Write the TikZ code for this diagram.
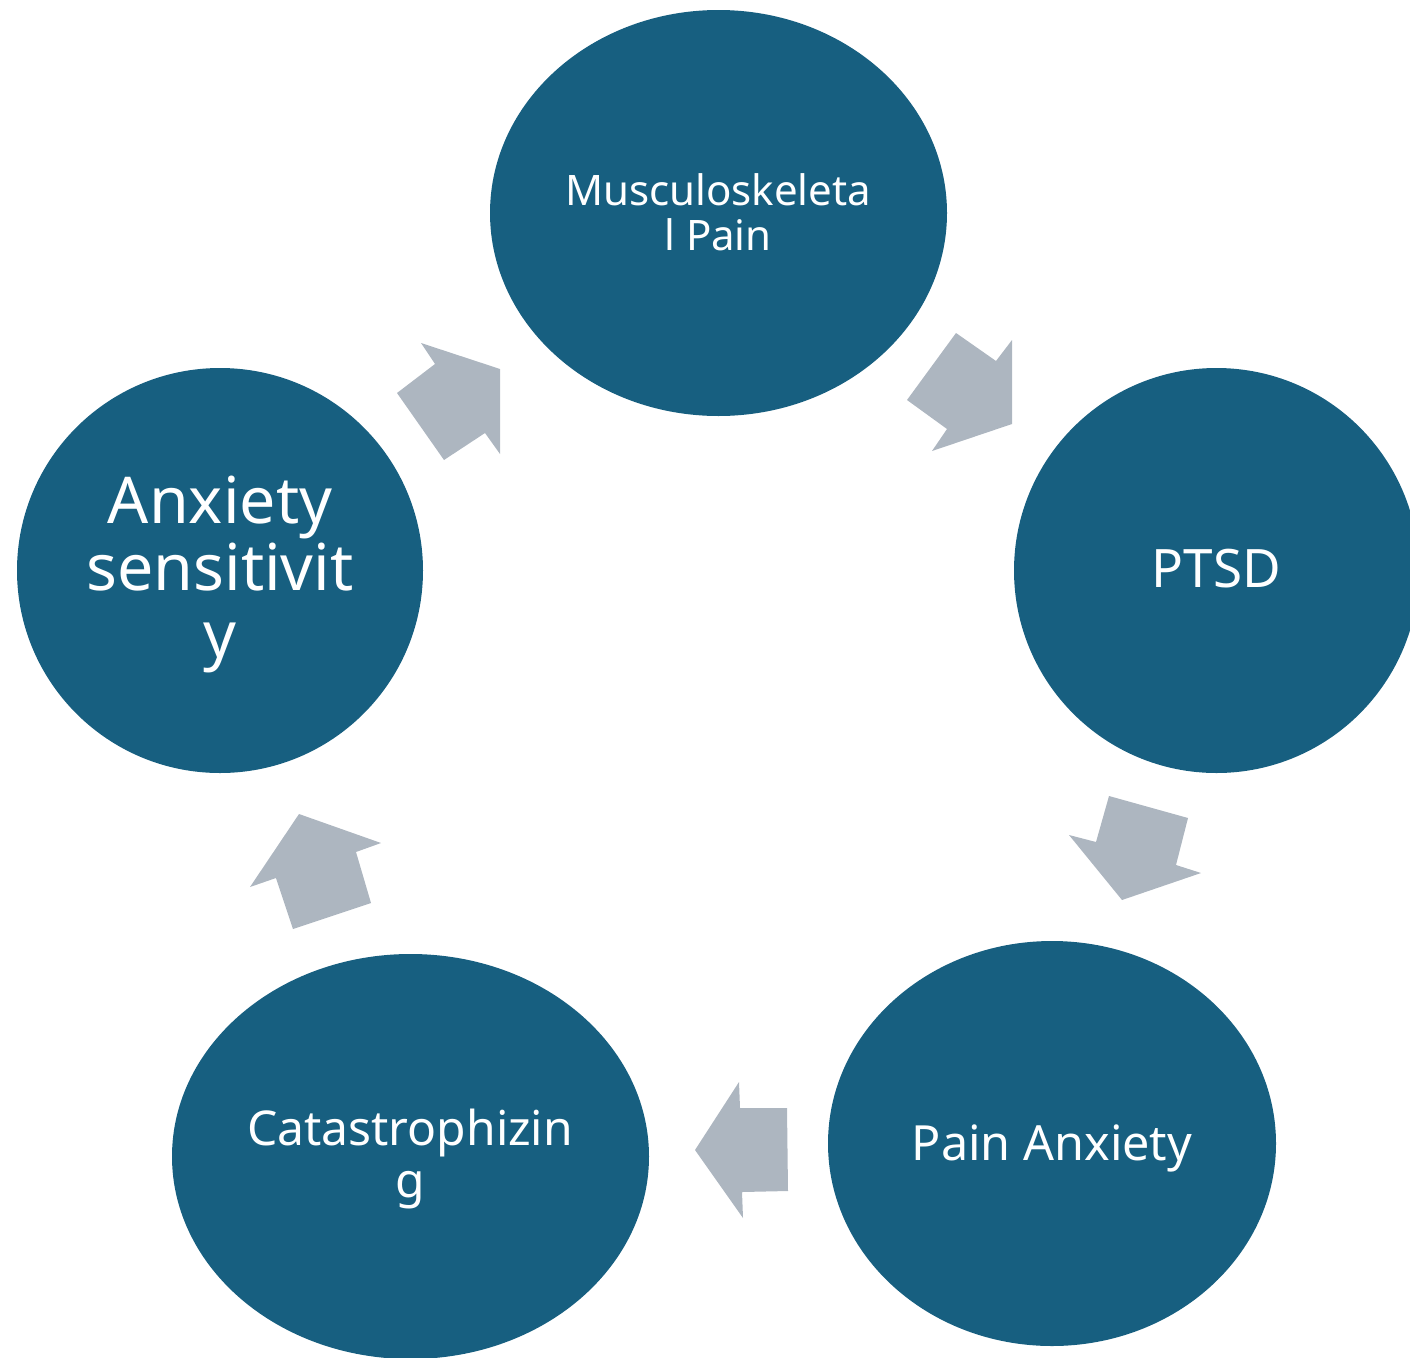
\documentclass[tikz,border=0pt]{standalone}
\usepackage{fontspec}
\setmainfont{Noto Sans}
\usetikzlibrary{shapes.geometric}
\definecolor{bubblue}{RGB}{23,95,128}
\definecolor{arrgrey}{RGB}{173,182,192}
\tikzset{
  bub/.style={ellipse, fill=bubblue, draw=none, inner sep=0pt},
  lbl/.style={text=white, align=center, anchor=base, inner sep=0pt},
  arr/.style={fill=arrgrey, draw=none}
}
\begin{document}
\begin{tikzpicture}[x=1pt, y=-1pt]
\clip (0,0) rectangle (1410,1357);
% bubbles
\node[bub, minimum width=457pt, minimum height=406pt] (musc) at (718.5,213) {};
\node[bub, minimum width=405pt, minimum height=405pt] (ptsd) at (1216.5,570.5) {};
\node[bub, minimum width=448pt, minimum height=405pt] (pain) at (1052,1143.5) {};
\node[bub, minimum width=477pt, minimum height=405pt] (cata) at (410.5,1156.5) {};
\node[bub, minimum width=406pt, minimum height=405pt] (anx) at (220,570.5) {};
% labels (anchor = baseline of the last line)
\node[lbl, font=\fontsize{42}{45}\selectfont] (tmusc) at (718,250) {Musculoskeleta\\l Pain};
\node[lbl, font=\fontsize{53}{55}\selectfont] (tptsd) at (1216.5,587) {PTSD};
\node[lbl, font=\fontsize{48.5}{50}\selectfont] (tpain) at (1052,1160) {Pain Anxiety};
\node[lbl, font=\fontsize{48}{52}\selectfont] (tcata) at (410,1197) {Catastrophizin\\g};
\node[lbl, font=\fontsize{64.5}{67}\selectfont] (tanx) at (220,657) {Anxiety\\sensitivit\\y};
% block arrows
\fill[arr] (421,343) -- (435,364) -- (397,393) -- (444,460) -- (485,433) -- (500,454) -- (500,369) -- cycle;
\fill[arr] (956,333) -- (996,361) -- (1012,340) -- (1012,424) -- (932,451) -- (947,429) -- (907,400) -- cycle;
\fill[arr] (1109,796) -- (1188,818) -- (1176,865) -- (1201,873) -- (1122,900) -- (1069,835) -- (1096,842) -- cycle;
\fill[arr] (739,1082) -- (740,1108) -- (787,1108) -- (788,1191) -- (742,1192) -- (743,1218) -- (695,1150) -- cycle;
\fill[arr] (299,814) -- (381,843) -- (356,852) -- (371,903) -- (293,929) -- (276,878) -- (250,887) -- cycle;
\end{tikzpicture}
\end{document}
